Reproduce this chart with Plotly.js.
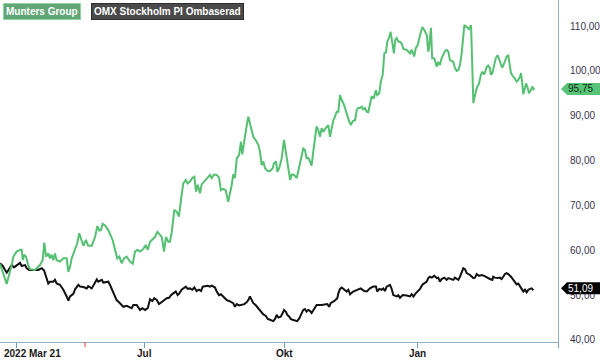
<!DOCTYPE html>
<html>
<head>
<meta charset="utf-8">
<script src="https://cdn.plot.ly/plotly-3.0.1.min.js"></script>
<style>
  html, body { margin: 0; padding: 0; background: #fff; }
  #chart { width: 600px; height: 360px; }
</style>
</head>
<body>
<div id="chart"></div>
<script>
// Trading-day index (day 0 = 2022-03-21) and values
const mgDay = [0,3.2,5.6,6.4,8.0,9.6,10.4,10.9,11.5,12.4,13.5,14.4,16.7,19.1,20.4,21.2,22.0,23.1,23.9,24.7,25.5,26.3,27.1,28.7,30.3,31.9,32.7,33.5,34.3,35.9,37.0,37.9,38.8,39.9,41.1,42.2,43.9,45.5,46.6,47.5,48.3,49.1,50.2,51.8,53.9,55.0,56.1,57.1,58.2,59.3,60.6,62.2,63.5,64.6,65.7,67.0,68.6,69.7,70.7,71.8,72.9,74.2,75.3,76.1,77.4,78.5,79.4,80.5,81.3,82.2,83.4,84.5,85.6,86.9,87.7,88.9,89.8,90.9,92.0,93.0,93.8,94.6,95.7,96.5,98.1,99.7,100.5,101.3,102.4,103.7,104.8,105.7,106.8,108.0,109.2,110.9,111.6,112.4,113.3,114.4,115.3,115.9,116.9,117.7,118.8,120.1,121.2,122.3,123.6,124.4,125.2,126.0,126.8,128.1,129.2,130.5,131.1,132.1,132.7,133.6,134.8,135.9,136.8,137.9,138.8,139.6,140.7,142.0,143.2,144.4,145.1,145.9,146.7,147.5,148.3,149.1,149.9,150.7,151.5,152.3,153.1,153.9,154.7,155.5,157.1,157.9,158.7,159.5,160.3,161.1,161.9,162.7,163.5,164.3,165.1,166.2,167.1,167.9,168.8,169.9,170.7,171.4,172.2,173.1,173.8,174.6,175.5,176.2,177.0,177.8,178.9,179.9,180.5,181.5,182.2,183.1,183.9,184.7,185.3,186.3,186.9,187.4,187.9,188.5,189.1,189.8,190.6,191.4,192.2,193.0,194.6,195.4,196.2,197.0,197.8,198.2,198.9,199.9,201.0,202.1,203.0,204.2,204.9,205.3,206.2,206.8,207.8,209.0,209.7,210.5,211.3,212.1,212.9,213.7,214.5,215.3,216.9,217.7,218.5,219.3,220.1,220.9,221.7,222.2,223.3,224.4,225.4,226.5,227.3,228.1,229.2,230.1,230.8,231.7,232.9,233.6,234.4,234.9,235.6,236.5,237.2,238.1,238.9,239.7,240.3,241.3,242.4,243.2,244.0,244.5,245.6,246.4,247.2,248.0,248.8,249.3,249.9,250.4,251.2,251.7,252.5,253.1,254.1,254.7,255.6];
const mgValue = [57.0,52.5,56.7,58.6,59.7,60.1,60.1,57.8,59.0,58.6,56.7,55.8,55.6,56.7,57.8,61.7,58.6,59.3,58.2,59.0,57.8,59.3,57.8,57.5,58.2,58.2,55.2,56.3,58.2,60.1,61.6,63.8,62.3,61.0,62.3,61.0,61.0,63.0,65.4,64.4,64.5,65.9,65.6,64.5,62.3,60.1,58.2,58.6,57.1,58.2,58.6,57.5,57.0,59.7,60.1,59.7,60.3,61.2,60.1,61.9,62.5,63.0,64.1,63.6,63.0,59.7,63.0,61.9,61.9,64.1,69.0,68.6,67.5,72.3,74.9,75.7,74.9,75.3,76.1,76.4,73.1,74.6,72.7,74.7,75.5,76.4,76.8,76.1,76.9,76.8,76.2,73.4,73.7,73.4,70.8,74.6,76.9,76.1,80.5,81.2,84.2,81.4,85.0,86.8,89.8,87.6,85.3,84.6,83.5,82.0,79.0,79.8,78.3,77.7,77.7,78.3,79.4,79.8,77.5,78.3,80.5,84.6,82.0,78.3,75.7,76.9,76.8,76.1,79.0,81.2,82.7,82.4,80.5,80.6,79.8,78.9,82.0,85.0,87.6,86.8,85.3,87.2,86.4,87.0,87.9,85.3,87.6,89.0,89.8,90.9,90.9,94.6,93.5,92.8,91.7,89.8,88.7,87.9,88.8,89.0,91.3,91.7,91.7,92.0,91.4,91.7,90.9,90.8,92.4,94.2,94.0,95.7,94.6,95.0,97.6,99.1,103.9,104.1,106.5,107.6,108.7,107.3,105.0,103.9,106.9,107.3,106.5,106.5,106.1,104.9,104.7,104.3,103.9,104.7,103.9,103.2,105.0,105.8,108.0,109.8,109.1,108.0,104.3,105.0,109.6,102.8,102.8,100.9,102.0,101.3,102.8,103.5,104.4,104.7,104.3,102.4,102.0,100.6,100.0,100.2,101.3,103.9,108.0,110.2,109.8,109.3,110.2,92.8,94.6,96.1,97.2,99.1,99.8,99.2,100.9,101.2,100.6,99.1,99.5,101.3,102.8,103.5,102.4,101.3,100.7,101.7,103.2,103.4,100.9,99.5,98.7,98.3,97.6,98.0,98.7,99.5,97.2,94.8,96.2,97.2,96.2,95.0,95.7,96.5,95.75];

const omxDay = [0,1.3,3.2,4.4,5.6,6.7,8.0,9.6,10.4,12.0,12.8,14.0,18.3,20.0,21.1,22.0,23.1,23.9,25.5,26.3,27.1,28.7,30.3,31.9,32.7,33.5,35.1,35.9,37.5,38.3,39.9,41.5,42.2,43.9,45.5,46.3,47.0,48.7,49.4,51.8,52.6,54.2,55.8,57.4,59.0,60.6,61.9,63.0,63.8,65.4,67.0,68.1,69.4,70.7,71.8,72.9,73.8,75.0,76.1,77.4,78.6,79.8,80.9,81.8,82.9,84.1,85.0,85.8,86.9,88.0,88.9,89.8,90.9,92.0,93.0,94.1,95.2,96.2,97.0,98.1,99.4,100.5,101.3,102.9,103.7,104.8,105.7,106.8,108.5,109.6,110.5,111.6,112.4,113.3,114.4,115.6,116.9,118.0,118.8,119.6,120.4,121.2,122.3,123.3,124.4,125.2,126.0,127.1,128.1,129.2,130.8,131.6,132.4,133.2,134.3,135.3,135.9,136.8,137.5,138.4,139.1,140.0,142.2,143.2,144.4,145.1,145.9,146.7,147.5,148.3,149.1,149.9,150.7,151.5,153.9,155.5,156.6,157.6,158.2,160.0,161.4,161.9,162.7,163.5,165.1,165.9,166.7,167.5,169.0,171.0,172.6,174.3,175.5,177.0,178.6,179.9,180.5,181.5,182.6,183.4,184.2,185.0,186.6,187.4,188.2,189.8,190.6,191.4,192.7,194.6,196.2,197.0,197.8,198.9,200.1,201.0,202.1,203.0,204.2,204.9,205.7,206.6,207.8,209.0,209.7,210.5,211.3,212.6,213.7,214.5,215.8,216.9,217.7,219.3,220.1,220.9,221.7,222.5,223.3,224.9,226.5,227.3,228.1,229.2,230.5,231.7,232.9,234.4,235.6,236.0,236.8,238.1,239.2,240.0,240.8,241.6,242.4,243.2,244.5,245.6,246.4,247.2,248.0,248.8,249.6,250.4,251.2,252.0,252.8,253.6,254.4,255.2];
const omxValue = [57.1,56.5,55.0,56.0,56.7,56.2,56.7,57.2,56.5,56.7,56.0,55.6,55.6,56.0,55.5,54.1,52.6,53.0,53.0,53.4,52.6,52.3,51.2,49.7,48.8,49.7,50.3,51.3,52.3,51.9,51.8,51.5,52.0,51.5,53.0,53.5,53.0,53.4,52.8,53.0,52.3,50.4,48.9,48.2,47.4,47.6,47.4,47.1,47.8,47.8,46.7,47.1,46.7,47.1,49.1,48.7,49.3,48.9,48.0,48.5,48.9,49.3,49.4,50.0,50.4,50.8,50.0,50.4,51.2,51.5,51.9,51.4,51.5,51.2,51.7,50.9,51.2,50.9,51.9,52.0,52.1,51.9,52.1,51.7,50.8,50.0,50.2,49.7,48.9,48.7,48.4,48.2,47.4,48.0,47.7,47.8,48.0,48.4,48.9,49.7,48.9,48.2,47.8,47.2,46.7,46.2,45.7,45.4,44.7,44.5,44.2,44.7,45.6,45.0,45.2,46.0,46.7,46.3,45.6,45.2,44.7,44.5,44.2,44.8,46.0,46.7,46.9,46.3,46.7,46.5,46.0,46.7,47.4,47.8,47.8,48.0,48.0,47.4,48.2,48.7,49.3,50.4,51.4,51.7,51.2,50.8,51.2,50.2,50.8,51.2,51.5,50.9,50.8,51.5,51.9,51.9,50.8,51.4,51.2,51.5,50.9,51.9,52.3,51.4,50.0,49.7,50.0,49.4,50.0,49.9,49.7,50.2,49.7,50.4,50.9,51.4,52.3,52.6,53.0,53.8,54.1,53.9,54.3,53.8,53.9,53.0,53.6,53.9,53.4,53.8,53.6,53.4,53.9,53.4,54.1,55.1,56.0,55.8,54.9,54.5,53.8,53.9,54.7,54.3,54.5,54.3,53.9,53.6,53.4,54.1,53.9,53.8,53.9,53.6,54.1,54.7,54.9,54.7,54.1,53.4,53.0,52.4,52.6,52.1,51.4,50.8,51.2,50.6,51.2,51.4,51.5,51.09];

const seriesNames = ['Munters Group', 'OMX Stockholm PI Ombaserad'];
const seriesColors = ['#55c072', '#111111'];
const xTickDays = [8, 69, 136, 200, 267];
const xLabelDays = [0, 69, 136, 200];
const xTickLabels = ['2022 Mar 21', 'Jul', 'Okt', 'Jan'];
const markerDay = 40.7;
const yTickVals = [40, 50, 60, 70, 80, 90, 100, 110];

const fmt = v => v.toFixed(2).replace('.', ',');
const lastMg = mgValue[mgValue.length - 1];
const lastOmx = omxValue[omxValue.length - 1];

const traces = [
  {x: omxDay, y: omxValue, type: 'scatter', mode: 'lines', name: seriesNames[1],
   line: {color: seriesColors[1], width: 2}, hoverinfo: 'skip'},
  {x: mgDay, y: mgValue, type: 'scatter', mode: 'lines', name: seriesNames[0],
   line: {color: seriesColors[0], width: 2}, hoverinfo: 'skip'}
];

const axisCol = '#8db0c9';
const annotations = [];
// x tick labels
xTickLabels.forEach((t, i) => {
  annotations.push({
    x: xLabelDays[i], xref: 'x', y: 0, yref: 'paper',
    xanchor: i === 0 ? 'left' : 'center', yanchor: 'top',
    xshift: i === 0 ? 2 : 0, yshift: -4,
    text: '<b>' + t + '</b>', showarrow: false,
    font: {family: 'Liberation Sans, Arial, sans-serif', size: 10, color: '#1a1a1a'}
  });
});
// legend boxes
annotations.push({
  x: 0, xref: 'paper', y: 1, yref: 'paper', xanchor: 'left', yanchor: 'top',
  xshift: 3, yshift: -3, showarrow: false,
  text: '<b>' + seriesNames[0] + '</b>',
  font: {family: 'Liberation Sans, Arial, sans-serif', size: 10, color: '#ffffff'},
  bgcolor: '#62a677', bordercolor: '#8fd39f', borderwidth: 1, borderpad: 2
});
annotations.push({
  x: 0, xref: 'paper', y: 1, yref: 'paper', xanchor: 'left', yanchor: 'top',
  xshift: 91, yshift: -3, showarrow: false,
  text: '<b>' + seriesNames[1] + '</b>',
  font: {family: 'Liberation Sans, Arial, sans-serif', size: 10, color: '#ffffff'},
  bgcolor: '#4a4a4a', bordercolor: '#2e2e2e', borderwidth: 1, borderpad: 2
});
// last-value tags text
annotations.push({
  x: 1, xref: 'paper', y: lastMg, yref: 'y', xanchor: 'left', yanchor: 'middle',
  xshift: 8, yshift: 1, showarrow: false, text: fmt(lastMg),
  font: {family: 'Liberation Sans, Arial, sans-serif', size: 10, color: '#0d2a14'}
});
annotations.push({
  x: 1, xref: 'paper', y: lastOmx, yref: 'y', xanchor: 'left', yanchor: 'middle',
  xshift: 8, yshift: 2, showarrow: false, text: fmt(lastOmx),
  font: {family: 'Liberation Sans, Arial, sans-serif', size: 10, color: '#ffffff'}
});

const tagPath = 'M3,0 L9,6 L50,6 L50,-6 L9,-6 Z';
const shapes = [
  {type: 'path', layer: 'above', xref: 'paper', xsizemode: 'pixel', xanchor: 1,
   yref: 'y', ysizemode: 'pixel', yanchor: lastMg, path: 'M3,1 L9,7 L50,7 L50,-5 L9,-5 Z',
   fillcolor: '#57c477', line: {width: 0}},
  {type: 'path', layer: 'above', xref: 'paper', xsizemode: 'pixel', xanchor: 1,
   yref: 'y', ysizemode: 'pixel', yanchor: lastOmx, path: 'M3,2 L9,8 L50,8 L50,-4 L9,-4 Z',
   fillcolor: '#000000', line: {width: 0}},
  {type: 'line', layer: 'above', xref: 'x', x0: markerDay, x1: markerDay,
   yref: 'paper', y0: 0, y1: -0.015, line: {color: '#e23b3b', width: 1}}
];

const layout = {
  width: 600, height: 360,
  margin: {l: 0, r: 42, t: 0, b: 18, pad: 0},
  paper_bgcolor: '#ffffff', plot_bgcolor: '#ffffff',
  showlegend: false,
  separators: ',.',
  font: {family: 'Liberation Sans, Arial, sans-serif', size: 10, color: '#3a3450'},
  xaxis: {
    range: [0, 267], showgrid: false, zeroline: false,
    showline: true, linecolor: axisCol, linewidth: 1,
    ticks: 'outside', ticklen: 5, tickwidth: 1, tickcolor: '#6f9bbd',
    tickmode: 'array', tickvals: xTickDays, showticklabels: false, fixedrange: true
  },
  yaxis: {
    side: 'right', range: [39.55, 115.8], showgrid: false, zeroline: false,
    showline: true, linecolor: axisCol, linewidth: 1,
    ticks: '', tickmode: 'array', tickvals: yTickVals, tickformat: '.2f',
    ticklabelstandoff: 9,
    tickfont: {family: 'Liberation Sans, Arial, sans-serif', size: 10, color: '#3a3450'},
    fixedrange: true
  },
  annotations: annotations,
  shapes: shapes
};

Plotly.newPlot('chart', traces, layout, {displayModeBar: false, staticPlot: true});
</script>
</body>
</html>
